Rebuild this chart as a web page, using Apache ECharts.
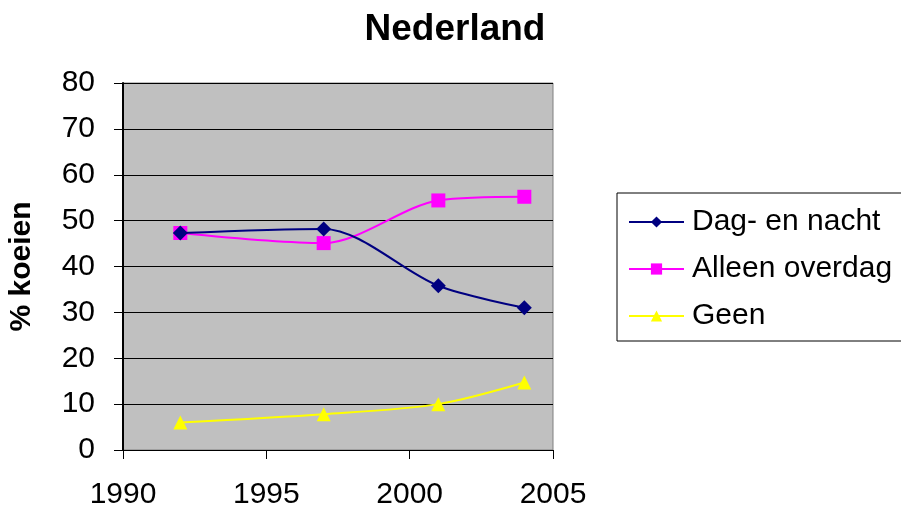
<!DOCTYPE html>
<html>
<head>
<meta charset="utf-8">
<script src="https://cdn.jsdelivr.net/npm/echarts@6/dist/echarts.min.js"></script>
<style>
  html, body { margin: 0; padding: 0; background: #fff; }
  #chart { width: 901px; height: 510px; }
</style>
</head>
<body>
<div id="chart"></div>
<script>
// Survey years and share of cows (%) per grazing regime
const years = [1992, 1997, 2001, 2004];
const dagEnNacht = [47.3, 48.2, 35.8, 31.0];
const alleenOverdag = [47.3, 45.1, 54.4, 55.2];
const geen = [6.0, 7.8, 10.0, 14.7];

const seriesNames = ['Dag- en nacht', 'Alleen overdag', 'Geen'];
const seriesColors = ['#000080', '#FF00FF', '#FFFF00'];
const seriesSymbols = ['diamond', 'rect', 'triangle'];
const seriesValues = [dagEnNacht, alleenOverdag, geen];

const font = '"Liberation Sans", Arial, sans-serif';

const chart = echarts.init(document.getElementById('chart'), null, { renderer: 'canvas' });

chart.setOption({
  backgroundColor: '#ffffff',
  animation: false,
  title: {
    text: 'Nederland',
    left: 450,
    top: 6,
    textAlign: 'center',
    textStyle: { fontFamily: font, fontSize: 37, fontWeight: 'bold', color: '#000' }
  },
  legend: {
    orient: 'vertical',
    left: 617,
    top: 193,
    width: 320,
    padding: [14, 60, 10, 11],
    itemGap: 17,
    itemWidth: 55,
    itemHeight: 14,
    borderColor: '#000',
    borderWidth: 1,
    textStyle: { fontFamily: font, fontSize: 30, color: '#000', padding: [0, 0, 0, 3] },
    data: seriesNames
  },
  grid: {
    left: 123,
    right: 348,
    top: 83,
    bottom: 60,
    show: true,
    backgroundColor: '#C0C0C0',
    borderColor: '#808080',
    borderWidth: 1
  },
  xAxis: {
    type: 'value',
    min: 1990,
    max: 2005,
    interval: 5,
    axisLine: { show: true, lineStyle: { color: '#000', width: 1 } },
    axisTick: { show: true, length: 9, inside: false, lineStyle: { color: '#000' } },
    splitLine: { show: false },
    axisLabel: {
      fontFamily: font, fontSize: 30, color: '#000', margin: 30,
      formatter: v => String(v)
    }
  },
  yAxis: {
    type: 'value',
    min: 0,
    max: 80,
    interval: 10,
    name: '% koeien',
    nameLocation: 'middle',
    nameGap: 86,
    nameRotate: 90,
    nameTextStyle: { fontFamily: font, fontSize: 30, fontWeight: 'bold', color: '#000' },
    axisLine: { show: true, lineStyle: { color: '#000', width: 2 } },
    axisTick: { show: true, length: 9, lineStyle: { color: '#000' } },
    splitLine: { show: true, lineStyle: { color: '#000', width: 1 } },
    axisLabel: { fontFamily: font, fontSize: 30, color: '#000', margin: 28 }
  },
  series: seriesNames.map((name, i) => ({
    name: name,
    type: 'line',
    smooth: 0.3,
    data: years.map((y, j) => [y, seriesValues[i][j]]),
    symbol: seriesSymbols[i],
    symbolSize: seriesSymbols[i] === 'diamond' ? 15 : 14,
    showSymbol: true,
    color: seriesColors[i],
    itemStyle: { color: seriesColors[i] },
    lineStyle: { color: seriesColors[i], width: 2 },
    z: 3 - i
  }))
});
</script>
</body>
</html>
